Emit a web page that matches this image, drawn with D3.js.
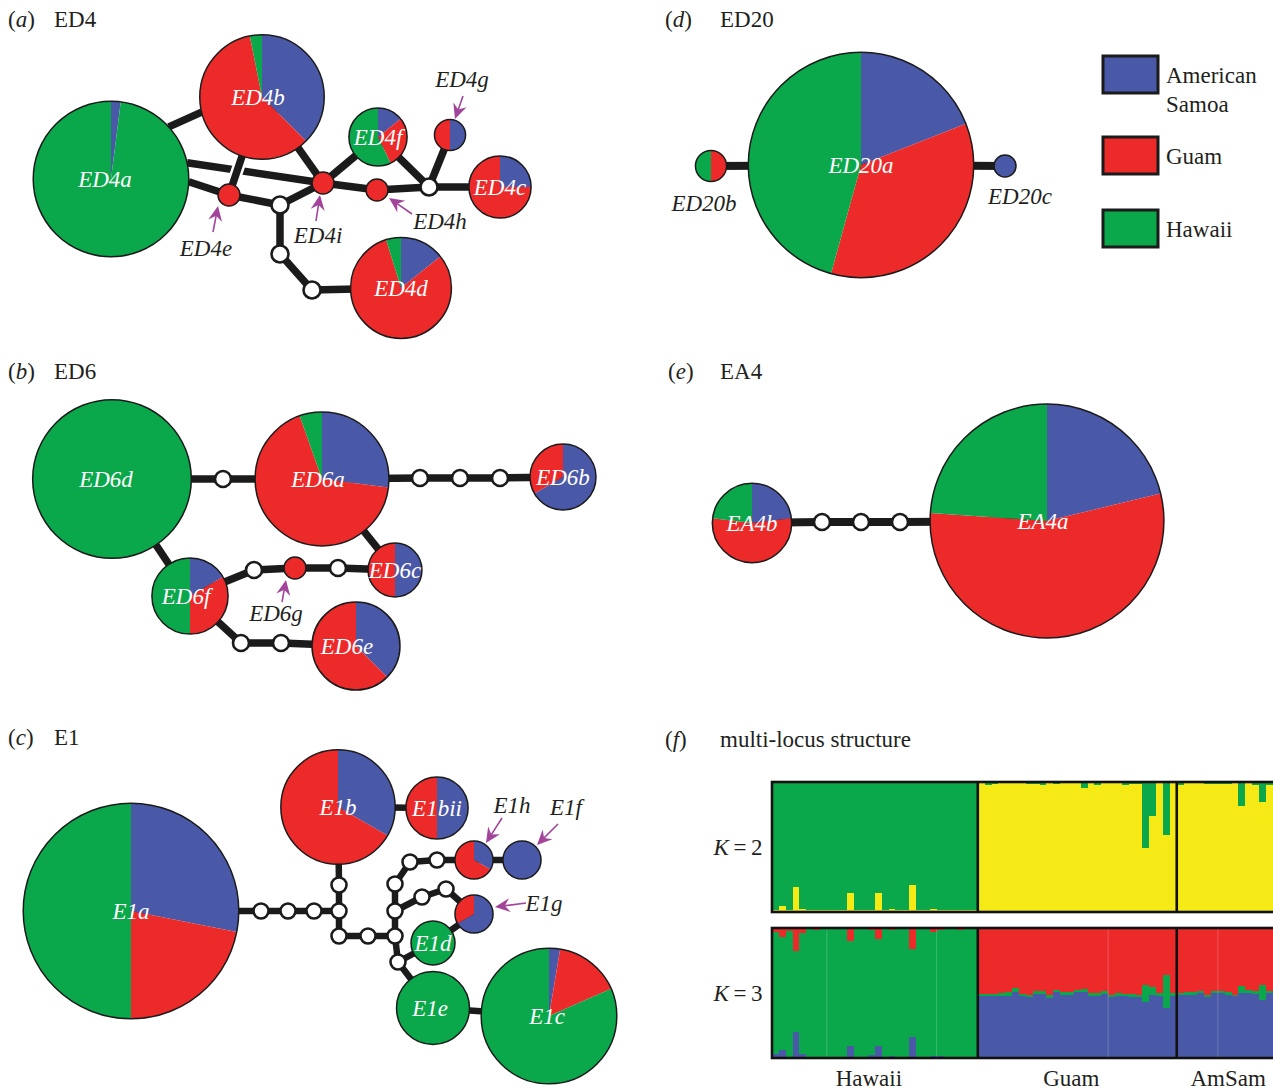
<!DOCTYPE html>
<html>
<head>
<meta charset="utf-8">
<script src="https://cdn.jsdelivr.net/npm/d3@7/dist/d3.min.js"></script>
<style>
  body { margin: 0; background: #fff; }
</style>
</head>
<body>
<svg id="fig" width="1273" height="1090" font-family="'Liberation Serif', 'Times New Roman', 'DejaVu Serif', serif"></svg>
<script>
// ---------- data ----------
// haplotype counts per population, in the order [American Samoa, Guam, Hawaii]
var populations = ["American Samoa", "Guam", "Hawaii"];
var legendLines = [["American", "Samoa"], ["Guam"], ["Hawaii"]];

var ed4Haps = ["ED4a", "ED4b", "ED4c", "ED4d", "ED4e", "ED4f", "ED4g", "ED4h", "ED4i"];
var ed4Counts = [[1, 0, 49], [12, 19, 1], [2, 6, 0], [3, 17, 1], [0, 1, 0], [1, 2, 4], [1, 1, 0], [0, 1, 0], [0, 1, 0]];
var ed4Links = [["ED4a", "ED4b"], ["ED4a", "ED4i"], ["ED4a", "ED4e"], ["ED4e", "m1"], ["m1", "ED4i"],
  ["ED4b", "ED4i"], ["ED4i", "ED4f"], ["ED4i", "ED4h"], ["ED4h", "m2"], ["ED4f", "m2"], ["m2", "ED4g"],
  ["m2", "ED4c"], ["m1", "m3"], ["m3", "m4"], ["m4", "ED4d"], ["ED4e", "ED4b"]];

var ed6Haps = ["ED6a", "ED6b", "ED6c", "ED6d", "ED6e", "ED6f", "ED6g"];
var ed6Counts = [[10, 25, 2], [6, 3, 0], [3, 3, 0], [0, 0, 52], [6, 10, 0], [2, 4, 6], [0, 1, 0]];
var ed6Links = [["ED6d", "m1"], ["m1", "ED6a"], ["ED6a", "m2"], ["m2", "m3"], ["m3", "m4"], ["m4", "ED6b"],
  ["ED6a", "ED6c"], ["ED6d", "ED6f"], ["ED6f", "m5"], ["m5", "ED6g"], ["ED6g", "m6"], ["m6", "ED6c"],
  ["ED6f", "m7"], ["m7", "m8"], ["m8", "ED6e"]];

var e1Haps = ["E1a", "E1b", "E1bii", "E1c", "E1d", "E1e", "E1f", "E1g", "E1h"];
var e1Counts = [[27, 21, 48], [9, 18, 0], [4, 4, 0], [1, 6, 31], [0, 0, 4], [0, 0, 11], [3, 0, 0], [2, 1, 0], [1, 2, 0]];
var e1Links = [["E1a", "n1"], ["n1", "n2"], ["n2", "n3"], ["n3", "n4"], ["E1b", "n5"], ["n5", "n4"],
  ["n4", "n6"], ["n6", "n7"], ["n7", "n8"], ["n8", "n9"], ["n9", "n10"], ["n10", "n11"], ["n11", "n12"],
  ["n12", "E1h"], ["E1h", "E1f"], ["n9", "n13"], ["n13", "n14"], ["n14", "E1g"], ["E1g", "E1d"],
  ["n8", "n15"], ["n15", "E1d"], ["n15", "E1e"], ["E1e", "E1c"], ["E1b", "E1bii"]];

var ed20Haps = ["ED20a", "ED20b", "ED20c"];
var ed20Counts = [[20, 37, 48], [0, 1, 1], [1, 0, 0]];
var ed20Links = [["ED20b", "ED20a"], ["ED20a", "ED20c"]];

var ea4Haps = ["EA4a", "EA4b"];
var ea4Counts = [[24, 62, 27], [3, 7, 3]];
var ea4Links = [["EA4b", "m1"], ["m1", "m2"], ["m2", "m3"], ["m3", "EA4a"]];

// STRUCTURE memberships, one value per individual
var structPops = ["Hawaii", "Guam", "AmSam"];
// K = 2: share of the Hawaii (green) cluster
var hawaiiK2 = [0.985, 0.95, 0.988, 0.81, 0.98, 0.988, 0.988, 0.988, 0.988, 0.988, 0.988, 0.85, 0.988, 0.988, 0.988,
  0.85, 0.988, 0.98, 0.988, 0.988, 0.79, 0.988, 0.988, 0.98, 0.988, 0.988, 0.988, 0.988, 0.988, 0.988];
var guamK2 = [0.01, 0.026, 0.015, 0.01, 0.005, 0.005, 0.005, 0.013, 0.013, 0.026, 0.01, 0.015, 0.01, 0.008, 0.008,
  0.045, 0.01, 0.02, 0.01, 0.008, 0.01, 0.026, 0.012, 0.012, 0.51, 0.26, 0.01, 0.405, 0.01];
var amsamK2 = [0.025, 0.005, 0.005, 0.005, 0.015, 0.015, 0.015, 0.015, 0.005, 0.187, 0.005, 0.02, 0.154, 0.025, 0.01];
// K = 3: [blue cluster, red cluster]; green is the remainder
var hawaiiK3 = [[0.034, 0.03], [0.06, 0.067], [0.005, 0.02], [0.197, 0.176], [0.034, 0.04], [0.005, 0.005],
  [0.005, 0.015], [0.005, 0.005], [0.005, 0.005], [0.005, 0.005], [0.005, 0.005], [0.093, 0.10], [0.005, 0.005],
  [0.005, 0.005], [0.02, 0.015], [0.093, 0.085], [0.005, 0.005], [0.015, 0.015], [0.005, 0.005], [0.005, 0.005],
  [0.163, 0.16], [0.005, 0.005], [0.005, 0.005], [0.015, 0.034], [0.015, 0.015], [0.005, 0.005], [0.005, 0.005],
  [0.005, 0.015], [0.005, 0.005], [0.005, 0.005]];
var guamK3 = [[0.475, 0.505], [0.475, 0.505], [0.475, 0.505], [0.48, 0.50], [0.48, 0.495], [0.51, 0.46],
  [0.474, 0.506], [0.466, 0.514], [0.492, 0.488], [0.492, 0.488], [0.461, 0.519], [0.508, 0.474], [0.487, 0.493],
  [0.487, 0.493], [0.508, 0.474], [0.508, 0.472], [0.477, 0.503], [0.477, 0.503], [0.492, 0.488], [0.466, 0.514],
  [0.477, 0.503], [0.474, 0.504], [0.47, 0.508], [0.466, 0.514], [0.43, 0.435], [0.487, 0.453], [0.477, 0.503],
  [0.383, 0.363], [0.477, 0.503]];
var amsamK3 = [[0.482, 0.50], [0.487, 0.495], [0.487, 0.495], [0.497, 0.487], [0.466, 0.514], [0.497, 0.487],
  [0.497, 0.487], [0.487, 0.495], [0.474, 0.513], [0.50, 0.448], [0.503, 0.479], [0.492, 0.488], [0.448, 0.435],
  [0.497, 0.487], [0.49, 0.49]];
var siteBreaks = [8, 24, 49, 65];

// ---------- layout ----------
var colors = ["#4a58a8", "#ec2a2a", "#0aa84a"];
var yellow = "#f6ea16";
var purple = "#a3449b";
var ink = "#1b1b1b";

var ed4Layout = {
  pos: {ED4a: [111, 179], ED4b: [262, 97], ED4c: [500, 187], ED4d: [401, 288], ED4e: [229, 195], ED4f: [378, 137],
    ED4g: [450, 135], ED4h: [377, 190], ED4i: [323, 183], m1: [280, 205], m2: [429, 187], m3: [280, 254], m4: [312, 290]},
  ports: {"ED4a-ED4b": [48, 256], "ED4a-ED4i": [78, null], "ED4a-ED4e": [92, null]},
  bridges: ["ED4e-ED4b"],
  labelDx: {ED4a: -6, ED4b: -4},
  outLabels: {ED4e: [206, 256], ED4g: [462, 87], ED4h: [440, 229], ED4i: [318, 243]},
  arrows: {ED4e: [218, 206, 213, 232], ED4g: [455, 119, 463, 96], ED4h: [389, 198, 412, 214], ED4i: [320, 195, 316, 221]},
  mr: 8.5, lw: 7.5
};
var ed6Layout = {
  pos: {ED6a: [322, 479], ED6b: [563, 477], ED6c: [395, 570], ED6d: [112, 479], ED6e: [356, 646], ED6f: [190, 596],
    ED6g: [295, 568], m1: [223, 479], m2: [420, 478], m3: [460, 478], m4: [500, 478], m5: [254, 570], m6: [338, 568],
    m7: [241, 643], m8: [281, 643]},
  labelDx: {ED6d: -6, ED6a: -4, ED6e: -9, ED6f: -4},
  outLabels: {ED6g: [276, 621]},
  arrows: {ED6g: [286, 580, 282, 602]},
  mr: 8, lw: 7.5
};
var e1Layout = {
  pos: {E1a: [131, 911], E1b: [338, 807], E1bii: [437, 808], E1c: [549, 1016], E1d: [433, 943], E1e: [433, 1008],
    E1f: [522, 860], E1g: [474, 914], E1h: [474, 860], n1: [261, 911], n2: [288, 911], n3: [314, 911], n4: [339, 911],
    n5: [339, 885], n6: [339, 936], n7: [368, 936], n8: [395, 936], n9: [395, 911], n10: [395, 884], n11: [410, 862],
    n12: [437, 860], n13: [422, 897], n14: [446, 889], n15: [398, 962]},
  labelDx: {E1e: -3, E1c: -2},
  outLabels: {E1h: [512, 813], E1f: [566, 815], E1g: [544, 911]},
  arrows: {E1h: [486, 843, 502, 818], E1f: [537, 845, 558, 824], E1g: [495, 907, 526, 903]},
  mr: 7.5, lw: 6.5
};
var ed20Layout = {
  pos: {ED20a: [861, 165], ED20b: [711, 166], ED20c: [1005, 166]},
  outLabels: {ED20b: [704, 211], ED20c: [1020, 204]},
  arrows: {},
  mr: 8, lw: 8
};
var ea4Layout = {
  pos: {EA4a: [1047, 521], EA4b: [752, 523], m1: [822, 522], m2: [861, 522], m3: [900, 522]},
  labelDx: {EA4a: -4},
  outLabels: {},
  arrows: {},
  mr: 8, lw: 8
};

var svg = d3.select("#fig");
var rScale = d3.scaleSqrt().domain([0, 1]).range([0, 11]);
var pie = d3.pie().sort(null).value(function(d) { return d; });
var arc = d3.arc().innerRadius(0);

function panelTitle(x, y, letter, name, nameX) {
  var t = svg.append("text").attr("x", x).attr("y", y).attr("font-size", 23).attr("fill", "#231f20");
  t.append("tspan").text("(");
  t.append("tspan").attr("font-style", "italic").text(letter);
  t.append("tspan").text(")");
  t.append("tspan").attr("x", nameX).text(name);
}

function drawArrow(g, a) {
  var dx = a[0] - a[2], dy = a[1] - a[3];
  var len = Math.sqrt(dx * dx + dy * dy);
  var ag = g.append("g")
      .attr("transform", "translate(" + a[0] + "," + a[1] + ") rotate(" + (Math.atan2(dy, dx) * 180 / Math.PI) + ")");
  ag.append("line").attr("x1", -len).attr("x2", -9).attr("y1", 0).attr("y2", 0)
      .attr("stroke", purple).attr("stroke-width", 1.6);
  ag.append("path").attr("d", "M0,0 L-15,-7 L-10,0 L-15,7 Z").attr("fill", purple);
}

function drawNetwork(haps, counts, links, lay) {
  var g = svg.append("g");
  var nodes = {};
  Object.keys(lay.pos).forEach(function(id) {
    var i = haps.indexOf(id);
    var c = i >= 0 ? counts[i] : null;
    nodes[id] = {id: id, x: lay.pos[id][0], y: lay.pos[id][1], counts: c,
      r: c ? rScale(d3.sum(c)) : lay.mr};
  });

  function endPoint(n, ang) {
    if (ang == null) return [n.x, n.y];
    var a = ang * Math.PI / 180;
    return [n.x + n.r * Math.sin(a), n.y - n.r * Math.cos(a)];
  }

  var bridges = lay.bridges || [];
  var plain = links.filter(function(l) { return bridges.indexOf(l[0] + "-" + l[1]) < 0; });
  var hopped = links.filter(function(l) { return bridges.indexOf(l[0] + "-" + l[1]) >= 0; });

  function linkLine(sel, width, color) {
    sel.each(function(l) {
      var port = (lay.ports && lay.ports[l[0] + "-" + l[1]]) || [];
      var p1 = endPoint(nodes[l[0]], port[0]), p2 = endPoint(nodes[l[1]], port[1]);
      d3.select(this).attr("x1", p1[0]).attr("y1", p1[1]).attr("x2", p2[0]).attr("y2", p2[1]);
    }).attr("stroke", color).attr("stroke-width", width);
  }

  linkLine(g.selectAll("line.plain").data(plain).enter().append("line").attr("class", "plain"), lay.lw, ink);
  linkLine(g.selectAll("line.halo").data(hopped).enter().append("line").attr("class", "halo"), lay.lw + 5, "#fff");
  linkLine(g.selectAll("line.hop").data(hopped).enter().append("line").attr("class", "hop"), lay.lw, ink);

  var list = Object.keys(nodes).map(function(k) { return nodes[k]; });

  // unsampled (missing) haplotypes
  g.selectAll("circle.missing").data(list.filter(function(d) { return !d.counts; }))
    .enter().append("circle").attr("class", "missing")
      .attr("cx", function(d) { return d.x; }).attr("cy", function(d) { return d.y; })
      .attr("r", function(d) { return d.r; })
      .attr("fill", "#fff").attr("stroke", ink).attr("stroke-width", 2.6);

  var hap = g.selectAll("g.hap").data(list.filter(function(d) { return d.counts; }))
    .enter().append("g").attr("class", "hap")
      .attr("transform", function(d) { return "translate(" + d.x + "," + d.y + ")"; });

  hap.selectAll("path").data(function(d) {
      return pie(d.counts).map(function(s) { s.r = d.r; return s; });
    })
    .enter().append("path")
      .attr("d", function(s) { return arc.outerRadius(s.r)(s); })
      .attr("fill", function(s, i) { return colors[i]; });

  hap.append("circle").attr("r", function(d) { return d.r; })
      .attr("fill", "none").attr("stroke", ink).attr("stroke-width", 1.5);

  hap.filter(function(d) { return !lay.outLabels[d.id]; })
    .append("text")
      .attr("x", function(d) { return (lay.labelDx && lay.labelDx[d.id]) || 0; })
      .attr("y", 8)
      .attr("text-anchor", "middle").attr("font-style", "italic").attr("font-size", 23)
      .attr("fill", "#fff")
      .text(function(d) { return d.id; });

  Object.keys(lay.outLabels).forEach(function(id) {
    var p = lay.outLabels[id];
    g.append("text").attr("x", p[0]).attr("y", p[1])
        .attr("text-anchor", "middle")
        .attr("font-style", "italic").attr("font-size", 23).attr("fill", "#231f20")
        .text(id);
  });
  Object.keys(lay.arrows).forEach(function(id) { drawArrow(g, lay.arrows[id]); });
}

// ---------- panels a-e ----------
panelTitle(8, 27, "a", "ED4", 54);
panelTitle(8, 379, "b", "ED6", 54);
panelTitle(8, 745, "c", "E1", 54);
panelTitle(665, 27, "d", "ED20", 720);
panelTitle(668, 379, "e", "EA4", 720);

drawNetwork(ed4Haps, ed4Counts, ed4Links, ed4Layout);
drawNetwork(ed6Haps, ed6Counts, ed6Links, ed6Layout);
drawNetwork(e1Haps, e1Counts, e1Links, e1Layout);
drawNetwork(ed20Haps, ed20Counts, ed20Links, ed20Layout);
drawNetwork(ea4Haps, ea4Counts, ea4Links, ea4Layout);

// legend
var legendTop = {"American Samoa": 56, "Guam": 137, "Hawaii": 210};
var leg = svg.append("g").selectAll("g").data(populations).enter().append("g")
    .attr("transform", function(d) { return "translate(1103," + legendTop[d] + ")"; });
leg.append("rect").attr("width", 55).attr("height", 37)
    .attr("fill", function(d, i) { return colors[i]; })
    .attr("stroke", ink).attr("stroke-width", 3);
leg.append("text").attr("x", 63).attr("font-size", 23).attr("fill", "#231f20")
  .selectAll("tspan").data(function(d, i) { return legendLines[i]; })
  .enter().append("tspan")
    .attr("x", 63).attr("y", function(d, j) { return 27 + j * 29; })
    .text(function(d) { return d; });

// ---------- panel f: STRUCTURE bar plots ----------
svg.append("text").attr("x", 665).attr("y", 747).attr("font-size", 23).attr("fill", "#231f20")
  .call(function(t) {
    t.append("tspan").text("(");
    t.append("tspan").attr("font-style", "italic").text("f");
    t.append("tspan").text(")");
    t.append("tspan").attr("x", 720).text("multi-locus structure");
  });

var groupsK2 = [hawaiiK2, guamK2, amsamK2];
var groupsK3 = [hawaiiK3, guamK3, amsamK3];
var k2 = d3.merge(groupsK2);
var k3 = d3.merge(groupsK3);
var nInd = k2.length;
var bandW = 6.86;
var x = d3.scaleBand().domain(d3.range(nInd)).range([772, 772 + nInd * bandW]);
var y2 = d3.scaleLinear().domain([0, 1]).range([912, 782]);
var y3 = d3.scaleLinear().domain([0, 1]).range([1058, 928]);

var popStart = [0];
groupsK2.forEach(function(gp, i) { popStart.push(popStart[i] + gp.length); });

var bars = svg.append("g").attr("shape-rendering", "crispEdges");

// K = 2: yellow (non-Hawaii cluster) below, green above
k2.forEach(function(q, i) {
  bars.append("rect").attr("x", x(i)).attr("width", x.bandwidth() + 0.4)
      .attr("y", y2(1 - q)).attr("height", y2(0) - y2(1 - q)).attr("fill", yellow);
  bars.append("rect").attr("x", x(i)).attr("width", x.bandwidth() + 0.4)
      .attr("y", y2(1)).attr("height", y2(1 - q) - y2(1)).attr("fill", colors[2]);
});

// K = 3: blue, green, red stacked from the bottom
k3.forEach(function(q, i) {
  var parts = [q[0], 1 - q[0] - q[1], q[1]];
  var fills = [colors[0], colors[2], colors[1]];
  var acc = 0;
  parts.forEach(function(p, j) {
    bars.append("rect").attr("x", x(i)).attr("width", x.bandwidth() + 0.4)
        .attr("y", y3(acc + p)).attr("height", y3(acc) - y3(acc + p)).attr("fill", fills[j]);
    acc += p;
  });
});

// faint sampling-site dividers in K = 3
svg.append("g").selectAll("line").data(siteBreaks).enter().append("line")
    .attr("x1", function(d) { return x(d); }).attr("x2", function(d) { return x(d); })
    .attr("y1", y3(1)).attr("y2", y3(0))
    .attr("stroke", "#fff").attr("stroke-opacity", 0.2).attr("stroke-width", 1);

[y2, y3].forEach(function(ys) {
  svg.append("rect").attr("x", x(0)).attr("y", ys(1))
      .attr("width", nInd * bandW).attr("height", ys(0) - ys(1))
      .attr("fill", "none").attr("stroke", "#111").attr("stroke-width", 2.6);
  popStart.slice(1, 3).forEach(function(s) {
    svg.append("line").attr("x1", x(s)).attr("x2", x(s)).attr("y1", ys(1)).attr("y2", ys(0))
        .attr("stroke", "#111").attr("stroke-width", 2.6);
  });
});

[["2", y2], ["3", y3]].forEach(function(k) {
  var t = svg.append("text").attr("x", 738).attr("y", (k[1](0) + k[1](1)) / 2 + 8)
      .attr("text-anchor", "middle").attr("font-size", 23).attr("fill", "#231f20");
  t.append("tspan").attr("font-style", "italic").text("K");
  t.append("tspan").text("\u2009=\u2009" + k[0]);
});

svg.append("g").selectAll("text").data(structPops).enter().append("text")
    .attr("x", function(d, i) { return (x(popStart[i]) + x(popStart[i + 1] - 1) + bandW) / 2 - (i < 2 ? 6 : 0); })
    .attr("y", 1086)
    .attr("text-anchor", "middle").attr("font-size", 23).attr("fill", "#231f20")
    .text(function(d) { return d; });
</script>
</body>
</html>
